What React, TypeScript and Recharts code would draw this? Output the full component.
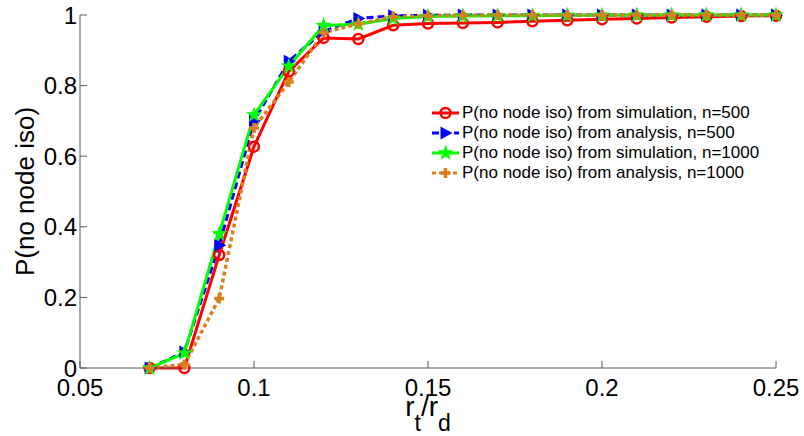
import { LineChart, Line, XAxis, YAxis, Legend } from 'recharts';

const FONT = '"Liberation Sans", Arial, Helvetica, sans-serif';

// r_t / r_d
const ratio = [0.07, 0.08, 0.09, 0.1, 0.11, 0.12, 0.13, 0.14, 0.15, 0.16, 0.17, 0.18, 0.19, 0.2, 0.21, 0.22, 0.23, 0.24, 0.25];

const simN500 = [0, 0, 0.32, 0.627, 0.84, 0.935, 0.932, 0.971, 0.976, 0.977, 0.979, 0.982, 0.985, 0.988, 0.99, 0.993, 0.995, 0.997, 0.998];
const anaN500 = [0, 0.045, 0.348, 0.7, 0.869, 0.954, 0.99, 0.998, 0.999, 1, 1, 1, 1, 1, 1, 1, 1, 1, 1];
const simN1000 = [0, 0.042, 0.38, 0.717, 0.855, 0.97, 0.974, 0.99, 0.996, 0.997, 0.998, 0.998, 0.999, 0.999, 1, 1, 1, 1, 1];
const anaN1000 = [0, 0.01, 0.197, 0.68, 0.81, 0.95, 0.975, 0.995, 0.998, 0.999, 1, 1, 1, 1, 1, 1, 1, 1, 1];

const xTicks = [0.05, 0.1, 0.15, 0.2, 0.25];
const yTicks = [0, 0.2, 0.4, 0.6, 0.8, 1];

const seriesNames = [
  'P(no node iso) from simulation, n=500',
  'P(no node iso) from analysis, n=500',
  'P(no node iso) from simulation, n=1000',
  'P(no node iso) from analysis, n=1000',
];

const RED = '#ff0000';
const BLUE = '#0000ff';
const GREEN = '#00ff00';
const ORANGE = '#d9801a';
const AXIS = '#5a5a5a';

const data = ratio.map((x, i) => ({
  x,
  simN500: simN500[i],
  anaN500: anaN500[i],
  simN1000: simN1000[i],
  anaN1000: anaN1000[i],
}));

// markers, shared by the lines and the legend
const circleMark = (cx: number, cy: number, key?: string) => (
  <circle key={key} cx={cx} cy={cy} r={5} fill="none" stroke={RED} strokeWidth={2.5} />
);

const triangleMark = (cx: number, cy: number, key?: string) => (
  <polygon key={key} points={`${cx + 7},${cy} ${cx - 5},${cy - 6.5} ${cx - 5},${cy + 6.5}`} fill={BLUE} />
);

const starMark = (cx: number, cy: number, key?: string) => {
  const pts: string[] = [];
  for (let i = 0; i < 10; i++) {
    const a = ((-90 + i * 36) * Math.PI) / 180;
    const r = i % 2 ? 3.4 : 8.5;
    pts.push(`${cx + r * Math.cos(a)},${cy + r * Math.sin(a)}`);
  }
  return <polygon key={key} points={pts.join(' ')} fill={GREEN} />;
};

const plusMark = (cx: number, cy: number, key?: string) => (
  <path key={key} d={`M${cx - 5},${cy}H${cx + 5}M${cx},${cy - 5}V${cy + 5}`} stroke={ORANGE} strokeWidth={3.5} fill="none" />
);

const styles = [
  { color: RED, dash: undefined as string | undefined, mark: circleMark },
  { color: BLUE, dash: '7 4', mark: triangleMark },
  { color: GREEN, dash: undefined, mark: starMark },
  { color: ORANGE, dash: '4 3', mark: plusMark },
];

const dotFn = (mark: typeof circleMark, tag: string) => (p: any) =>
  p.cx == null || p.cy == null ? <g key={`${tag}-${p.index}`} /> : mark(p.cx, p.cy, `${tag}-${p.index}`);

function ChartLegend() {
  return (
    <div style={{ fontFamily: FONT, fontSize: 17, color: '#000' }}>
      {seriesNames.map((name, i) => (
        <div key={name} style={{ display: 'flex', alignItems: 'center', height: 20, whiteSpace: 'nowrap' }}>
          <svg width={30} height={20} style={{ display: 'block' }}>
            <line x1={1} y1={10} x2={28} y2={10} stroke={styles[i].color} strokeWidth={3} strokeDasharray={styles[i].dash} />
            {styles[i].mark(14.5, 10)}
          </svg>
          <span style={{ marginLeft: 1 }}>{name}</span>
        </div>
      ))}
    </div>
  );
}

const XLabel = ({ viewBox }: any) => {
  const cx = viewBox.x + viewBox.width / 2;
  const y = viewBox.y + 48;
  return (
    <text x={cx} y={y} textAnchor="middle" fontFamily={FONT} fontSize={28} fill="#000">
      <tspan>r</tspan>
      <tspan fontSize={23} dy={15}>t</tspan>
      <tspan dy={-15}>/r</tspan>
      <tspan fontSize={23} dy={15}>d</tspan>
    </text>
  );
};

const YLabel = ({ viewBox }: any) => {
  const cx = 25;
  const cy = viewBox.y + viewBox.height / 2;
  return (
    <text x={cx} y={cy} transform={`rotate(-90 ${cx} ${cy})`} textAnchor="middle" dominantBaseline="central"
      fontFamily={FONT} fontSize={26} fill="#000">
      P(no node iso)
    </text>
  );
};

export default function App() {
  return (
    <div style={{ position: 'absolute', left: 0, top: 0, background: '#fff' }}>
      <LineChart width={804} height={436} data={data} margin={{ top: 15, right: 28, left: 20, bottom: 18 }}>
        <XAxis dataKey="x" type="number" domain={[0.05, 0.25]} ticks={xTicks} interval={0}
          height={50} stroke={AXIS} tickSize={-7} tickMargin={18}
          tick={{ fill: '#000', fontSize: 24, fontFamily: FONT }}
          tickFormatter={(v) => String(v)} label={<XLabel />} />
        <YAxis type="number" domain={[0, 1]} ticks={yTicks} interval={0}
          width={60} stroke={AXIS} tickSize={-7} tickMargin={10}
          tick={{ fill: '#000', fontSize: 24, fontFamily: FONT }}
          tickFormatter={(v) => String(v)} label={<YLabel />} />
        <Legend content={<ChartLegend />} layout="horizontal" verticalAlign="middle" align="center"
          wrapperStyle={{ left: 431, top: 103, width: 370, height: 80 }} />
        <Line dataKey="simN500" stroke={RED} strokeWidth={3} dot={dotFn(circleMark, 'a')} activeDot={false} isAnimationActive={false} />
        <Line dataKey="anaN500" stroke={BLUE} strokeWidth={3} strokeDasharray="7 4" dot={dotFn(triangleMark, 'b')} activeDot={false} isAnimationActive={false} />
        <Line dataKey="simN1000" stroke={GREEN} strokeWidth={3} dot={dotFn(starMark, 'c')} activeDot={false} isAnimationActive={false} />
        <Line dataKey="anaN1000" stroke={ORANGE} strokeWidth={3.5} strokeDasharray="4 3" dot={dotFn(plusMark, 'd')} activeDot={false} isAnimationActive={false} />
      </LineChart>
    </div>
  );
}
